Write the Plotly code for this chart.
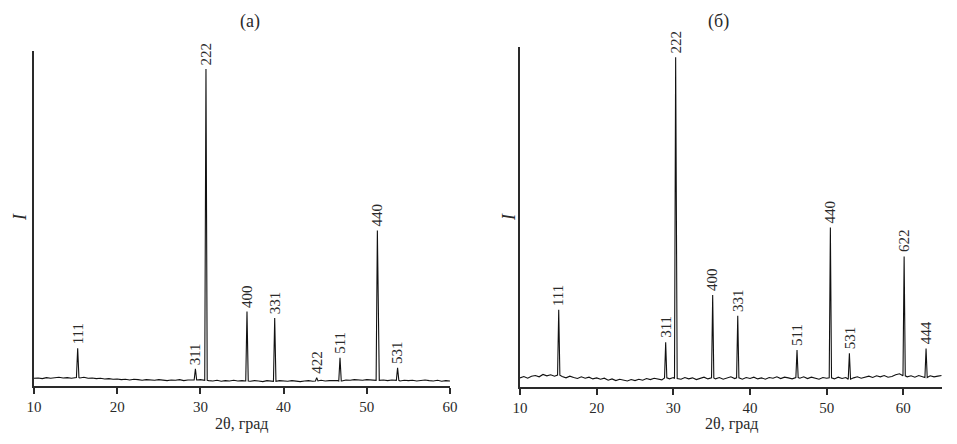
import numpy as np
import plotly.graph_objects as go

# background of both patterns, read every 0.5 deg starting at 2θ = 10
x_start = 10.0
x_step = 0.5

bg_a = [2.3, 2.4, 2.2, 2.5, 2.3, 2.4, 2.6, 2.4, 2.5, 2.3, 2.5,
        2.4, 2.6, 2.3, 2.4, 2.2, 2.3, 2.1, 2.2, 2.0, 2.1,
        1.9, 2.0, 1.8, 2.0, 1.9, 1.7, 1.9, 1.8, 1.7, 1.9,
        1.8, 1.6, 1.8, 1.7, 1.9, 1.6, 1.8, 1.7, 1.8, 1.9,
        1.7, 1.6, 1.5, 1.7, 1.4, 1.6, 1.5, 1.7, 1.5, 1.6,
        1.5, 1.4, 1.6, 1.5, 1.3, 1.6, 1.5, 1.4, 1.6, 1.5,
        1.4, 1.6, 1.5, 1.3, 1.5, 1.6, 1.4, 1.5, 1.7, 1.5,
        1.6, 1.7, 1.6, 1.5, 1.8, 1.7, 1.9, 1.8, 1.7, 1.9,
        1.8, 1.9, 1.7, 1.8, 1.6, 1.8, 1.7, 1.5, 1.7, 1.6,
        1.7, 1.5, 1.6, 1.8, 1.6, 1.5, 1.7, 1.4, 1.6, 1.5]

bg_b = [2.6, 3.0, 2.5, 3.1, 3.3, 2.9, 3.6, 3.2, 3.5, 3.1, 3.4,
        3.0, 2.6, 3.1, 2.7, 2.4, 2.9, 2.5, 2.8, 2.3, 2.6,
        2.2, 2.5, 1.9, 2.3, 1.8, 2.2, 2.0, 1.7, 2.1, 1.8,
        2.2, 1.9, 2.4, 2.1, 2.5, 2.2, 2.0, 2.6, 2.3, 2.7,
        2.4, 2.2, 2.7, 2.3, 2.6, 2.1, 2.5, 2.8, 2.3, 2.6,
        2.3, 2.7, 2.2, 2.5, 2.9, 2.4, 2.6, 2.2, 2.7, 2.4,
        2.8, 2.3, 2.6, 2.2, 2.7, 2.5, 2.9, 2.4, 2.8, 2.6,
        2.3, 2.7, 2.5, 2.9, 2.4, 2.8, 2.5, 2.2, 2.7, 2.5,
        2.6, 2.3, 2.8, 2.4, 2.7, 2.2, 2.6, 2.9, 2.5, 2.8,
        3.1, 2.7, 3.2, 2.9, 3.3, 2.8, 3.0, 3.5, 3.8, 3.2,
        2.9, 3.2, 2.8, 3.3, 3.0, 2.7, 3.2, 2.9, 3.1, 3.3]

# reflections: position (2θ), peak height, hkl
pos_a = [15.25, 29.4, 30.67, 35.6, 38.93, 43.98, 46.78, 51.27, 53.7]
int_a = [11.3, 5.1, 94.6, 22.2, 20.3, 2.5, 8.4, 46.4, 5.4]
hkl_a = ["111", "311", "222", "400", "331", "422", "511", "440", "531"]

pos_b = [15.05, 29.0, 30.3, 35.13, 38.4, 46.13, 50.48, 52.96, 60.1, 62.96]
int_b = [22.6, 13.1, 96.9, 27.0, 20.9, 10.8, 46.8, 9.8, 38.3, 11.2]
hkl_b = ["111", "311", "222", "400", "331", "511", "440", "531", "622", "444"]

HALF = 0.15
INK = "#111111"
AX = "#2a2a2a"
FONT = "Liberation Serif"

# page body adds an 8px margin, so the figure is a bit smaller than the window
W, H, OFF = 941, 428, 8


def px(x):
    return (x - OFF) / W


def py(y):
    return 1 - (y - OFF) / H


def pattern(bg, pos, top):
    bx = x_start + x_step * np.arange(len(bg))
    pts = [(x, y) for x, y in zip(bx, bg)
           if all(abs(x - p) > HALF for p in pos)]
    for p, h in zip(pos, top):
        foot = bg[int(round((p - x_start) / x_step))]
        pts += [(p - HALF, foot), (p, h), (p + HALF, foot)]
    pts.sort()
    return [q[0] for q in pts], [q[1] for q in pts]


fig = go.Figure()
xa, ya = pattern(bg_a, pos_a, int_a)
xb, yb = pattern(bg_b, pos_b, int_b)
fig.add_trace(go.Scatter(x=xa, y=ya, mode="lines", line=dict(color=INK, width=1.1),
                         xaxis="x", yaxis="y", showlegend=False))
fig.add_trace(go.Scatter(x=xb, y=yb, mode="lines", line=dict(color=INK, width=1.1),
                         xaxis="x2", yaxis="y2", showlegend=False))

xcommon = dict(showline=True, linecolor=AX, linewidth=2, ticks="outside",
               ticklen=6, tickwidth=1.5, tickcolor=AX, dtick=10,
               showgrid=False, zeroline=False, automargin=False,
               tickfont=dict(family=FONT, size=15, color=AX))
ycommon = dict(showline=True, linecolor=AX, linewidth=2, showticklabels=False,
               ticks="", showgrid=False, zeroline=False, range=[0, 100],
               automargin=False)

ann = []
for pos, top, hkl, xr, yr in [(pos_a, int_a, hkl_a, "x", "y"),
                              (pos_b, int_b, hkl_b, "x2", "y2")]:
    for p, h, t in zip(pos, top, hkl):
        ann.append(dict(x=p, y=h, xref=xr, yref=yr, text=t, textangle=-90,
                        xanchor="center", yanchor="bottom", yshift=2,
                        showarrow=False, font=dict(family=FONT, size=15, color=AX)))

# panel titles, axis titles
for x_px, y_px, txt, size in [(250, 22, "(a)", 18), (718, 22, "(б)", 18),
                               (241, 424, "2θ, град", 16),
                               (731, 424, "2θ, град", 16)]:
    ann.append(dict(x=px(x_px), y=py(y_px), xref="paper", yref="paper",
                    text=txt, showarrow=False, xanchor="center", yanchor="middle",
                    font=dict(family=FONT, size=size, color=AX)))
for x_px in [20, 509]:
    ann.append(dict(x=px(x_px), y=py(217), xref="paper", yref="paper",
                    text="<i>I</i>", showarrow=False, textangle=-90,
                    xanchor="center", yanchor="middle",
                    font=dict(family=FONT, size=18, color=AX)))

fig.update_layout(
    template="none",
    width=W, height=H,
    margin=dict(l=0, r=0, t=0, b=0, pad=0),
    paper_bgcolor="white", plot_bgcolor="white",
    xaxis=dict(domain=[px(34), px(450)], range=[10, 60], anchor="y", **xcommon),
    yaxis=dict(domain=[py(386), py(51)], anchor="x", **ycommon),
    xaxis2=dict(domain=[px(520), px(941.7)], range=[10, 65], anchor="y2", **xcommon),
    yaxis2=dict(domain=[py(386.7), py(46.7)], anchor="x2", **ycommon),
    annotations=ann,
)

fig.write_html("out.html")
